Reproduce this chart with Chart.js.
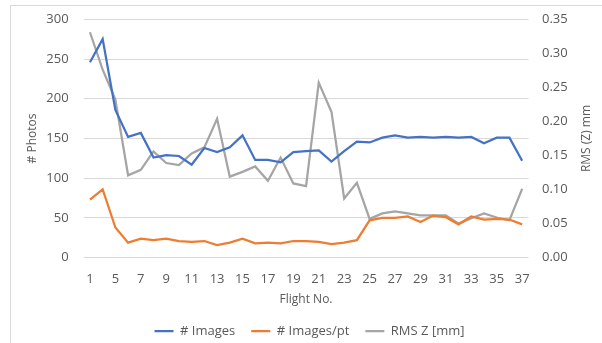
<!DOCTYPE html>
<html>
<head>
<meta charset="utf-8">
<script src="https://cdn.jsdelivr.net/npm/chart.js@4.4.1/dist/chart.umd.min.js"></script>
<style>
    html, body { margin: 0; padding: 0; background: #fff; }
    #wrap { position: relative; width: 602px; height: 343px; overflow: hidden; }
    #frame { position: absolute; left: 10px; top: 5px; width: 700px; height: 400px; border-left: 1px solid #d9d9d9; border-top: 1px solid #d9d9d9; }
    canvas { position: absolute; left: 0; top: 0; }
</style>
</head>
<body>
<div id="wrap">
    <div id="frame"></div>
    <!-- canvas um pouco mais alto que a janela; a parte de baixo fica cortada -->
    <canvas id="voosChart" width="602" height="348"></canvas>
</div>
<script>
// Dados (voos 2 e 3 não aparecem)
const flights = [1, 4, 5, 6, 7, 8, 9, 10, 11, 12, 13, 14, 15, 16, 17, 18, 19, 20, 21, 22, 23, 24, 25, 26, 27, 28, 29, 30, 31, 32, 33, 34, 35, 36, 37];
const images = [246, 275, 186, 152, 157, 126, 129, 128, 117, 138, 133, 139, 154, 123, 123, 120, 133, 134, 135, 121, 134, 146, 145, 151, 154, 151, 152, 151, 152, 151, 152, 144, 151, 151, 122];
const imagesPerPt = [73, 86, 38, 19, 24, 22, 24, 21, 20, 21, 16, 19, 24, 18, 19, 18, 21, 21, 20, 17, 19, 22, 47, 50, 50, 52, 45, 53, 51, 42, 52, 48, 49, 48, 42];
const rmsZ = [0.331, 0.276, 0.232, 0.121, 0.129, 0.156, 0.139, 0.136, 0.153, 0.162, 0.204, 0.119, 0.126, 0.134, 0.113, 0.147, 0.109, 0.105, 0.257, 0.214, 0.087, 0.110, 0.057, 0.065, 0.068, 0.065, 0.062, 0.062, 0.062, 0.050, 0.058, 0.065, 0.059, 0.055, 0.101];

const leftTicks = { min: 0, max: 300, step: 50 };
const rightTicks = { min: 0, max: 0.35, step: 0.05 };

document.addEventListener('DOMContentLoaded', () => {
    const FONT = 'Open Sans';
    const TEXT = '#595959';

    // título do eixo direito, escrito de baixo para cima como no Excel
    const rightTitle = {
        id: 'rightTitle',
        afterDraw(chart) {
            const { ctx, chartArea } = chart;
            ctx.save();
            ctx.translate(587, (chartArea.top + chartArea.bottom) / 2);
            ctx.rotate(-Math.PI / 2);
            ctx.font = `12px "${FONT}"`;
            ctx.fillStyle = TEXT;
            ctx.textAlign = 'center';
            ctx.textBaseline = 'middle';
            ctx.fillText('RMS (Z) mm', 0, 0);
            ctx.restore();
        }
    };

    const line = (label, data, color, axis) => ({
        label, data, yAxisID: axis,
        borderColor: color, backgroundColor: color,
        borderWidth: 2.25, pointRadius: 0, tension: 0, fill: false
    });

    // largura fixa dos eixos verticais, sem o padding extra dos rótulos
    const fixY = (w) => (s) => { s.width = w; s.paddingTop = 0; s.paddingBottom = 0; };

    new Chart(document.getElementById('voosChart'), {
        type: 'line',
        data: {
            labels: flights,
            datasets: [
                line('# Images', images, '#4472C4', 'y'),
                line('# Images/pt', imagesPerPt, '#ED7D31', 'y'),
                line('RMS Z [mm]', rmsZ, '#A5A5A5', 'y1')
            ]
        },
        options: {
            responsive: false, animation: false,
            layout: { autoPadding: false, padding: { left: 17, right: 0, top: 19.3, bottom: 0.3 } },
            plugins: {
                tooltip: { enabled: false },
                legend: {
                    position: 'bottom',
                    labels: { color: TEXT, font: { family: FONT, size: 13 }, usePointStyle: true, pointStyle: 'line', pointStyleWidth: 19, padding: 16 }
                }
            },
            scales: {
                x: {
                    offset: true,
                    grid: { display: false, drawTicks: false },
                    border: { display: false },
                    ticks: { autoSkip: false, maxRotation: 0, padding: 13.8, color: TEXT, font: { family: FONT, size: 13 },
                        callback: function (v, i) { return i % 2 === 0 ? this.getLabelForValue(v) : ''; } },
                    title: { display: true, text: 'Flight No.', color: TEXT, font: { family: FONT, size: 12 }, padding: { top: 0, bottom: 1.5 } },
                    afterFit: (s) => { s.height = 51; }
                },
                y: {
                    position: 'left', min: leftTicks.min, max: leftTicks.max,
                    grid: { color: '#d9d9d9', lineWidth: 1, drawTicks: false },
                    border: { display: false },
                    ticks: { stepSize: leftTicks.step, padding: 15, color: TEXT, font: { family: FONT, size: 13 } },
                    title: { display: true, text: '# Photos', color: TEXT, font: { family: FONT, size: 12 }, padding: { top: 8, bottom: 0 } },
                    afterFit: fixY(66.6)
                },
                y1: {
                    position: 'right', min: rightTicks.min, max: rightTicks.max,
                    grid: { drawOnChartArea: false, drawTicks: false },
                    border: { display: false },
                    ticks: { stepSize: rightTicks.step, padding: 13.5, color: TEXT, font: { family: FONT, size: 13 },
                        callback: (v) => v.toFixed(2) },
                    afterFit: fixY(73.5)
                }
            }
        },
        plugins: [rightTitle]
    });
});
</script>
</body>
</html>
